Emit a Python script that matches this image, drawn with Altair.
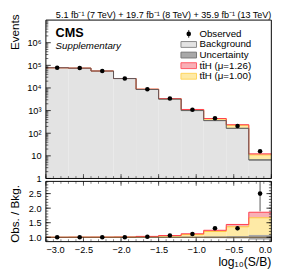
import altair as alt
import pandas as pd

FONT = "Liberation Sans"

# ---------------- data ----------------
bin_lo = [-3.0, -2.7, -2.4, -2.1, -1.8, -1.5, -1.2, -0.9, -0.6, -0.3]
bin_hi = [-2.7, -2.4, -2.1, -1.8, -1.5, -1.2, -0.9, -0.6, -0.3, 0.0]
bin_center = [-2.85, -2.55, -2.25, -1.95, -1.65, -1.35, -1.05, -0.75, -0.45, -0.15]
background = [7.8e4, 7.5e4, 5.6e4, 2.6e4, 8.6e3, 3.2e3, 1.0e3, 3.6e2, 1.65e2, 6.6]
observed = [7.9e4, 7.6e4, 5.6e4, 2.6e4, 8.8e3, 3.4e3, 1.1e3, 4.6e2, 2.1e2, 16.0]
unc_rel = [0.01, 0.01, 0.01, 0.01, 0.012, 0.015, 0.02, 0.03, 0.04, 0.08]
ratio_mu126 = [1.0, 1.003, 1.004, 1.008, 1.03, 1.06, 1.12, 1.24, 1.44, 1.86]
ratio_mu100 = [1.0, 1.002, 1.003, 1.006, 1.024, 1.048, 1.095, 1.2, 1.36, 1.67]
ratio_obs = [1.0, 1.0, 1.0, 1.0, 1.02, 1.06, 1.11, 1.31, 1.31, 2.5]
ratio_err_lo = [0.995, 0.995, 0.995, 0.993, 1.01, 1.04, 1.08, 1.26, 1.24, 1.89]
ratio_err_hi = [1.005, 1.005, 1.005, 1.007, 1.03, 1.08, 1.14, 1.36, 1.38, 3.3]

legend_labels = ["Observed", "Background", "Uncertainty", "tt\u0304H (\u03bc=1.26)", "tt\u0304H (\u03bc=1.00)"]
ytick_major_u = [1, 10, 100, 1e3, 1e4, 1e5, 1e6]
ytick_minor_u = [m * 10 ** k for k in range(7) for m in range(2, 10)]
ytick_major_l = [1.0, 1.5, 2.0, 2.5]
ytick_minor_l = [round(0.9 + 0.1 * i, 1) for i in range(21)]
xtick_major = [-3.0, -2.5, -2.0, -1.5, -1.0, -0.5, 0.0]
xtick_minor = [round(-3.0 + 0.1 * i, 1) for i in range(31)]

# ---------------- tables ----------------
df = pd.DataFrame({
    "lo": bin_lo, "hi": bin_hi, "c": bin_center,
    "bkg": background, "obs": observed, "unc": unc_rel,
    "r126": ratio_mu126, "r100": ratio_mu100,
    "robs": ratio_obs, "relo": ratio_err_lo, "rehi": ratio_err_hi,
})
df["base"] = 1.0
df["bkg_dn"] = df["bkg"] * (1 - df["unc"])
df["bkg_up"] = df["bkg"] * (1 + df["unc"])
df["s100"] = df["bkg"] * df["r100"]
df["s126"] = df["bkg"] * df["r126"]
df["u_dn"] = 1 - df["unc"]
df["u_up"] = 1 + df["unc"]

step = pd.DataFrame({
    "x": bin_lo + [bin_hi[-1]],
    "bkg": background + [background[-1]],
    "s100": list(df["s100"]) + [df["s100"].iloc[-1]],
    "s126": list(df["s126"]) + [df["s126"].iloc[-1]],
    "r100": ratio_mu100 + [ratio_mu100[-1]],
    "r126": ratio_mu126 + [ratio_mu126[-1]],
})

# ---------------- geometry (pixels) ----------------
W, HU, GAP, HL = 232, 163, 3, 62
LT = HU + GAP          # top of lower panel
TOT = LT + HL          # total plot height

XS = alt.Scale(domain=[-3.0, 0.0], nice=False, zero=False)
YU = alt.Scale(type="log", domain=[1, 1e7], nice=False, range=[HU, 0])
YL = alt.Scale(domain=[0.85, 2.92], nice=False, zero=False, range=[TOT, LT], clamp=True)

AXU = alt.Axis(orient="left", values=ytick_major_u, ticks=False, domain=False, grid=False,
               labelExpr="datum.value == 1 ? '1' : datum.value == 10 ? '10' : '10' + ['\u2070','\u00b9','\u00b2','\u00b3','\u2074','\u2075','\u2076','\u2077'][round(log(datum.value)/LN10)]",
               labelFontSize=9.5, labelPadding=5, title=None)
AXL = alt.Axis(orient="left", values=ytick_major_l, format=".1f", ticks=False, domain=False, grid=False,
               labelFontSize=9.5, labelPadding=5, title=None)
AXX = alt.Axis(orient="bottom", values=xtick_major, format=".1f", ticks=False, domain=False, grid=False,
               labelFontSize=9.5, labelPadding=3, title=None)

def xx(f):
    return alt.X(f, scale=XS, axis=AXX)

def yu(f):
    return alt.Y(f, scale=YU, axis=AXU)

def yl(f):
    return alt.Y(f, scale=YL, axis=AXL)

base = alt.Chart(df)
stepc = alt.Chart(step)

RED_FILL, RED_LINE = "#f8b0b6", "#ff3c4c"
YEL_FILL, YEL_LINE = "#feeaa6", "#ffc83a"
BKG_FILL, BKG_LINE = "#e3e3e3", "#5a5a5a"
UNC_FILL = "#a8a8a8"

def one():
    return alt.Chart(pd.DataFrame({"t": [0]}))

def txt(s, x, y, size, weight="normal", style="normal", align="left", baseline="alphabetic", angle=0):
    return alt.Chart(pd.DataFrame({"t": [s]})).mark_text(
        align=align, baseline=baseline, fontSize=size, fontWeight=weight,
        fontStyle=style, font=FONT, color="black", angle=angle
    ).encode(text="t:N", x=alt.value(x), y=alt.value(y))

def box(x, y, fill, stroke):
    return one().mark_rect(fill=fill, stroke=stroke, strokeWidth=1).encode(
        x=alt.value(x), x2=alt.value(x + 16), y=alt.value(y - 3), y2=alt.value(y + 3))

def frame(y0, y1):
    return one().mark_rect(fill="transparent", stroke="black", strokeWidth=1).encode(
        x=alt.value(0), x2=alt.value(W), y=alt.value(y0), y2=alt.value(y1))

def hticks(vals, yfun, x0, length, width):
    return alt.Chart(pd.DataFrame({"v": vals})).mark_rule(color="black", strokeWidth=width).encode(
        y=yfun("v:Q"), x=alt.value(x0), x2=alt.value(x0 + length))

def vticks(vals, y0, length, width):
    return alt.Chart(pd.DataFrame({"v": vals})).mark_rule(color="#333333", strokeWidth=width).encode(
        x=xx("v:Q"), y=alt.value(y0), y2=alt.value(y0 + length))

# ---------------- upper panel ----------------
u_bkg = base.mark_rect(fill=BKG_FILL).encode(x=xx("lo:Q"), x2="hi:Q", y=yu("bkg:Q"), y2="base:Q")
u_yel = base.mark_rect(fill=YEL_FILL).encode(x=xx("lo:Q"), x2="hi:Q", y=yu("s100:Q"), y2="bkg:Q")
u_red = base.mark_rect(fill=RED_FILL).encode(x=xx("lo:Q"), x2="hi:Q", y=yu("s126:Q"), y2="s100:Q")
u_unc = base.mark_rect(fill=UNC_FILL).encode(x=xx("lo:Q"), x2="hi:Q", y=yu("bkg_up:Q"), y2="bkg_dn:Q")
u_line_bkg = stepc.mark_line(interpolate="step-after", color=BKG_LINE, strokeWidth=1).encode(x=xx("x:Q"), y=yu("bkg:Q"))
u_line_yel = stepc.mark_line(interpolate="step-after", color=YEL_LINE, strokeWidth=1).encode(x=xx("x:Q"), y=yu("s100:Q"))
u_line_red = stepc.mark_line(interpolate="step-after", color=RED_LINE, strokeWidth=1).encode(x=xx("x:Q"), y=yu("s126:Q"))
u_pts = base.mark_circle(color="black", opacity=1, size=22).encode(x=xx("c:Q"), y=yu("obs:Q"))

texts = [
    txt("5.1 fb\u207b\u00b9 (7 TeV) + 19.7 fb\u207b\u00b9 (8 TeV) + 35.9 fb\u207b\u00b9 (13 TeV)", W, -2.5, 9.3, align="right"),
    txt("CMS", 10, 17.8, 13, weight="bold"),
    txt("Supplementary", 10, 30, 10, style="italic"),
    txt("Events", -31.5, 12.5, 12, align="center", baseline="middle", angle=270),
    txt("Obs. / Bkg.", -31.5, LT + 33.5, 12, align="center", baseline="middle", angle=270),
    txt("log\u2081\u2080(S/B)", W, TOT + 25.5, 12.5, align="right"),
]
LX, LY0, LDY = 139, 14.2, 10.9
legend = [
    one().mark_rule(color="black", strokeWidth=0.8).encode(
        x=alt.value(LX + 8), y=alt.value(LY0 - 4), y2=alt.value(LY0 + 4)),
    one().mark_circle(color="black", opacity=1, size=22).encode(x=alt.value(LX + 8), y=alt.value(LY0)),
    box(LX, LY0 + LDY, BKG_FILL, "#888888"),
    box(LX, LY0 + 2 * LDY, UNC_FILL, "#777777"),
    box(LX, LY0 + 3 * LDY, RED_FILL, "#ff5a66"),
    box(LX, LY0 + 4 * LDY, YEL_FILL, "#ffd45a"),
]
for i, lab in enumerate(legend_labels):
    legend.append(txt(lab, LX + 19, LY0 + i * LDY, 10, baseline="middle"))

upper = alt.layer(
    u_bkg, u_yel, u_red, u_unc, u_line_yel, u_line_red, u_line_bkg, u_pts,
    hticks(ytick_major_u, yu, 0, 5, 0.8), hticks(ytick_minor_u, yu, 0, 2.5, 0.6),
    vticks(xtick_major, HU - 4.5, 4.5, 0.8), vticks(xtick_minor, HU - 2.5, 2.5, 0.6),
    frame(0, HU), *texts, *legend
)

# ---------------- lower panel ----------------
l_yel = base.mark_rect(fill=YEL_FILL).encode(x=xx("lo:Q"), x2="hi:Q", y=yl("r100:Q"), y2="base:Q")
l_red = base.mark_rect(fill=RED_FILL).encode(x=xx("lo:Q"), x2="hi:Q", y=yl("r126:Q"), y2="r100:Q")
l_unc = base.mark_rect(fill=UNC_FILL).encode(x=xx("lo:Q"), x2="hi:Q", y=yl("u_up:Q"), y2="u_dn:Q")
l_one = alt.Chart(pd.DataFrame({"v": [1.0]})).mark_rule(color="#6b5532", strokeWidth=1).encode(
    y=yl("v:Q"), x=alt.value(0), x2=alt.value(W))
l_line_yel = stepc.mark_line(interpolate="step-after", color=YEL_LINE, strokeWidth=1).encode(x=xx("x:Q"), y=yl("r100:Q"))
l_line_red = stepc.mark_line(interpolate="step-after", color=RED_LINE, strokeWidth=1).encode(x=xx("x:Q"), y=yl("r126:Q"))
l_err = base.mark_rule(color="#555555", strokeWidth=1).encode(x=xx("c:Q"), y=yl("relo:Q"), y2="rehi:Q")
l_pts = base.mark_circle(color="black", opacity=1, size=22).encode(x=xx("c:Q"), y=yl("robs:Q"))

lower = alt.layer(
    l_yel, l_red, l_unc, l_line_yel, l_line_red, l_one, l_err, l_pts,
    hticks(ytick_major_l, yl, 0, 5, 0.8), hticks(ytick_minor_l, yl, 0, 2.5, 0.6),
    hticks(ytick_major_l, yl, W, -5, 0.8), hticks(ytick_minor_l, yl, W, -2.5, 0.6),
    vticks(xtick_major, LT, 4.5, 0.8), vticks(xtick_minor, LT, 2.5, 0.6),
    vticks(xtick_major, TOT - 4.5, 4.5, 0.8), vticks(xtick_minor, TOT - 2.5, 2.5, 0.6),
    frame(LT, TOT)
)

chart = alt.layer(upper, lower).resolve_scale(y="independent").properties(
    width=W, height=TOT,
    padding={"left": 39, "top": 8.5, "right": 12, "bottom": 34},
    autosize=alt.AutoSizeParams(type="none"),
).configure_view(
    stroke="transparent"
).configure_axis(
    labelFont=FONT, titleFont=FONT, labelColor="black", titleColor="black"
)

chart.save("out.html", embed_options={"renderer": "svg", "actions": False})
